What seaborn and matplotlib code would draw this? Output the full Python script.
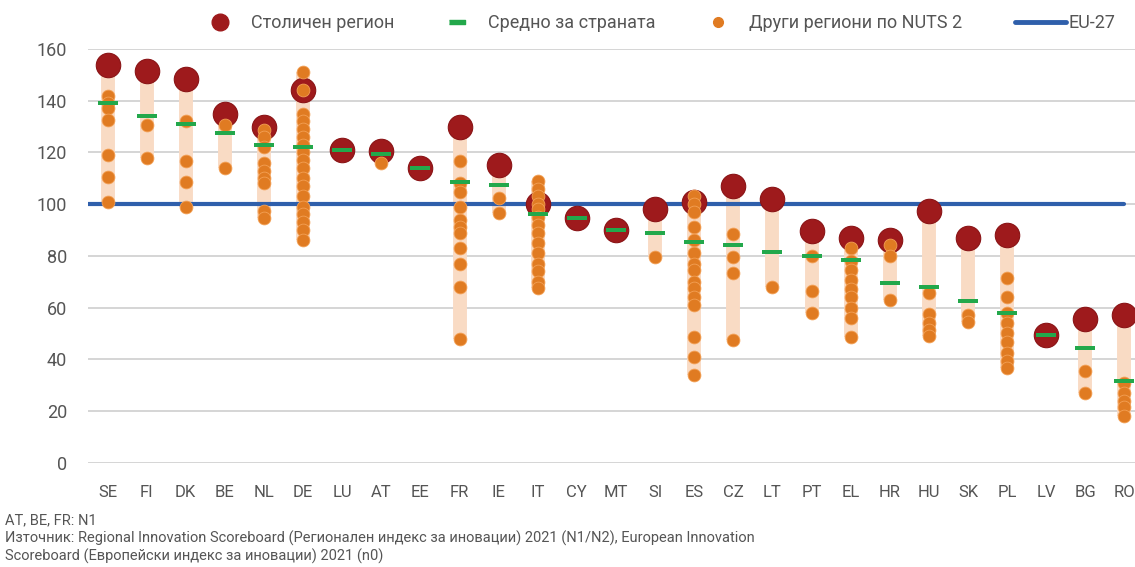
import numpy as np
import pandas as pd
import matplotlib
matplotlib.use("Agg")
import matplotlib.pyplot as plt
from matplotlib.lines import Line2D
import seaborn as sns

# данни по държави
countries = ["SE", "FI", "DK", "BE", "NL", "DE", "LU", "AT", "EE", "FR", "IE", "IT", "CY", "MT",
             "SI", "ES", "CZ", "LT", "PT", "EL", "HR", "HU", "SK", "PL", "LV", "BG", "RO"]

capital = [154, 151.5, 148.5, 135, 130, 144, 121, 120.5, 114, 130, 115, 100, 94.5, 90,
           98, 101, 107, 102, 89.5, 87, 86, 97.5, 87, 88, 49.5, 55.5, 57]

national_avg = [139, 134, 131, 127.5, 123, 122, 121, 119.5, 114, 108.5, 107.5, 96, 94.5, 90,
                89, 85.5, 84, 81.5, 80, 78.5, 69.5, 68, 62.5, 58, 49.5, 44.5, 31.5]

other_regions = [
    [142, 139, 137, 132.5, 119, 110.5, 101],                       # SE
    [130.5, 118],                                                  # FI
    [132, 116.5, 108.5, 99],                                       # DK
    [130.5, 114],                                                  # BE
    [128.5, 126, 122, 116, 113, 110, 108, 97.5, 94.5],             # NL
    [151, 144, 135, 132, 129, 126, 123, 120, 117, 114, 110, 107,
     103, 99, 96, 93, 90, 86],                                     # DE
    [],                                                            # LU
    [116],                                                         # AT
    [],                                                            # EE
    [116.5, 108, 104.5, 99, 94, 91, 89, 83, 77, 68, 48],           # FR
    [102.5, 96.5],                                                 # IE
    [109, 106, 103, 100, 98, 95, 92, 89, 85, 81, 77, 74, 70, 67.5],  # IT
    [],                                                            # CY
    [],                                                            # MT
    [79.5],                                                        # SI
    [103, 100, 97, 91, 86, 81, 77, 74.5, 70, 67.5, 64, 61, 48.5, 41, 34],  # ES
    [88.5, 79.5, 73.5, 47.5],                                      # CZ
    [68],                                                          # LT
    [80, 66.5, 58],                                                # PT
    [83, 78, 74.5, 70.5, 67, 64, 60, 56, 48.5],                    # EL
    [84, 80, 63],                                                  # HR
    [65.5, 57.5, 54, 51.5, 49],                                    # HU
    [57, 54.5],                                                    # SK
    [71.5, 64, 58, 54, 50, 46.5, 42.5, 39.5, 36.5],                # PL
    [],                                                            # LV
    [35.5, 27],                                                    # BG
    [31, 27, 24, 21.5, 18],                                        # RO
]

eu27 = 100

legend_labels = ["Столичен регион", "Средно за страната", "Други региони по NUTS 2", "EU-27"]
footnotes = [
    "AT, BE, FR: N1",
    "Източник: Regional Innovation Scoreboard (Регионален индекс за иновации) 2021 (N1/N2), European Innovation",
    "Scoreboard (Европейски индекс за иновации) 2021 (n0)",
]

# цветове
c_capital = "#9e1a1c"
c_other = "#e07b22"
c_avg = "#23a84b"
c_bar = "#f9dbc4"
c_eu = "#2f5fab"
c_text = "#555555"

pos = {c: i for i, c in enumerate(countries)}
df = pd.DataFrame({"country": countries, "capital": capital, "avg": national_avg})
df["x"] = df["country"].map(pos)

rows = []
for c, vals in zip(countries, other_regions):
    for v in vals:
        rows.append({"country": c, "value": v})
df_oth = pd.DataFrame(rows)
df_oth["x"] = df_oth["country"].map(pos)

# обхват на регионите за всяка държава
rng = []
for c, cap, vals in zip(countries, capital, other_regions):
    allv = [cap] + vals
    rng.append((pos[c], min(allv), max(allv)))
rng = pd.DataFrame(rng, columns=["x", "lo", "hi"])
rng = rng[rng["hi"] > rng["lo"]]

sns.set_theme(style="white")
plt.rcParams["font.family"] = ["Roboto", "DejaVu Sans"]

fig = plt.figure(figsize=(11.35, 5.67), dpi=100)
ax = fig.add_axes([0.0775, 0.184, 0.9225, 0.7296])

ax.vlines(rng["x"], rng["lo"], rng["hi"], color=c_bar, lw=10, zorder=1)
ax.hlines(eu27, -0.5, len(countries) - 1, color=c_eu, lw=3, zorder=2, capstyle="round")

sns.scatterplot(data=df, x="x", y="capital", ax=ax, s=310, color=c_capital,
                edgecolor="#8a1416", linewidth=0.8, zorder=3, clip_on=False)
sns.scatterplot(data=df_oth, x="x", y="value", ax=ax, s=85, color=c_other,
                edgecolor="#f3a055", linewidth=0.6, zorder=4, clip_on=False)
dash = [(-1, -0.24), (1, -0.24), (1, 0.24), (-1, 0.24)]
sns.scatterplot(data=df, x="x", y="avg", ax=ax, s=200, marker=dash, color=c_avg,
                edgecolor=c_avg, linewidth=0, zorder=5, clip_on=False)

ax.set_xlim(-0.5, 26.27)
ax.set_ylim(0, 160)
ax.set_yticks(range(0, 161, 20))
ax.set_xticks(range(len(countries)))
ax.set_xticklabels(countries)
ax.set_xlabel("")
ax.set_ylabel("")
ax.grid(axis="y", color="#d2d2d2", lw=1.3, zorder=0)
ax.set_axisbelow(True)
for s in ax.spines.values():
    s.set_visible(False)
ax.tick_params(axis="both", length=0, colors=c_text)
ax.tick_params(axis="x", pad=16, labelsize=12)
ax.tick_params(axis="y", pad=15, labelsize=13)

handles = [
    Line2D([], [], marker="o", ls="", color=c_capital, markersize=12),
    Line2D([], [], marker=dash, ls="", color=c_avg, markersize=11),
    Line2D([], [], marker="o", ls="", color=c_other, markersize=7),
]
leg = fig.legend(handles, legend_labels[:3], ncol=3, frameon=False, loc="center left",
                 bbox_to_anchor=(0.175, 0.959), fontsize=13, columnspacing=2.65,
                 handletextpad=0.92, handlelength=1.6, borderaxespad=0)
for t in leg.get_texts():
    t.set_color(c_text)

# EU-27 — отделна легенда, текстът е точно след линията
eu_handle = Line2D([], [], color=c_eu, lw=3.5, solid_capstyle="round")
leg2 = fig.legend([eu_handle], [legend_labels[3]], frameon=False,
                  loc="center left", bbox_to_anchor=(0.888, 0.959), fontsize=13,
                  handlelength=2.8, handletextpad=0.15, borderaxespad=0)
for t in leg2.get_texts():
    t.set_color(c_text)

fig.text(0.004, 0.083, footnotes[0], fontsize=10.5, color=c_text, va="center")
fig.text(0.004, 0.051, footnotes[1], fontsize=10.5, color=c_text, va="center")
fig.text(0.004, 0.019, footnotes[2], fontsize=10.5, color=c_text, va="center")

fig.savefig("out.png", dpi=100)
